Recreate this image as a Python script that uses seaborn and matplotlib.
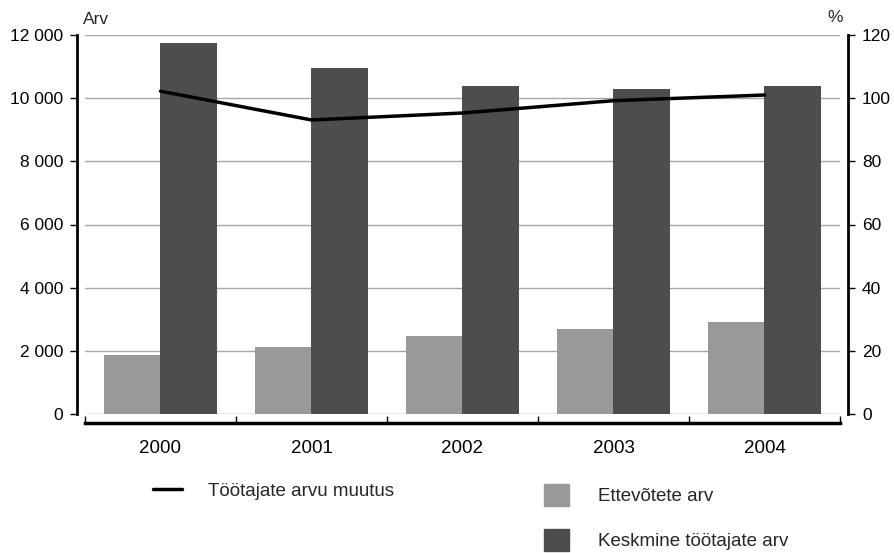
import numpy as np
import pandas as pd
import seaborn as sns
from matplotlib import pyplot as plt
from matplotlib.ticker import FuncFormatter, FixedLocator
from matplotlib.patches import Patch
from matplotlib.lines import Line2D

years = ['2000', '2001', '2002', '2003', '2004']
firms = [1870, 2120, 2470, 2690, 2910]          # Ettevõtete arv
employees = [11750, 10960, 10390, 10290, 10390]  # Keskmine töötajate arv
change = [102.2, 93.1, 95.3, 99.2, 101.0]        # Töötajate arvu muutus, %

lbl_firms = 'Ettevõtete arv'
lbl_emp = 'Keskmine töötajate arv'
lbl_change = 'Töötajate arvu muutus'

sns.set_style('white')
plt.rcParams['font.family'] = ['Liberation Sans', 'DejaVu Sans']
plt.rcParams['font.size'] = 12.5

df = pd.DataFrame({
    'year': years * 2,
    'value': firms + employees,
    'series': [lbl_firms] * len(years) + [lbl_emp] * len(years),
})

fig = plt.figure(figsize=(8.95, 5.53), dpi=100)
ax = fig.add_axes([85 / 895, 1 - 414 / 553, 755 / 895, 379 / 553])

sns.barplot(data=df, x='year', y='value', hue='series', order=years,
            hue_order=[lbl_firms, lbl_emp], palette=['#999999', '#4d4d4d'],
            width=0.75, saturation=1, linewidth=0, ax=ax, legend=False)

ax.set_xlim(-0.5, len(years) - 0.5)
ax.set_ylim(0, 12000)
ax.set_yticks(np.arange(0, 12001, 2000))
ax.yaxis.set_major_formatter(FuncFormatter(lambda v, p: f'{int(v):,}'.replace(',', ' ')))
ax.grid(axis='y', color='#a6a6a6', lw=1)
ax.set_axisbelow(True)
ax.set_xlabel('')
ax.set_ylabel('')

for s in ['top', 'right']:
    ax.spines[s].set_visible(False)
ax.spines['left'].set_position(('outward', 5.8))
ax.spines['left'].set_linewidth(2)
ax.spines['left'].set_color('black')
ax.spines['bottom'].set_position(('outward', 6.5))
ax.spines['bottom'].set_linewidth(2.5)
ax.spines['bottom'].set_color('black')

ax.tick_params(axis='y', direction='out', length=5, width=1, pad=5, labelsize=12.5,
               left=True, color='black', labelcolor='black')
ax.tick_params(axis='x', which='major', length=0, pad=12, labelsize=13.5, labelcolor='black')
ax.xaxis.set_minor_locator(FixedLocator(np.arange(-0.5, len(years), 1.0)))
ax.tick_params(axis='x', which='minor', direction='in', length=5, width=1, bottom=True, color='black')

ax2 = ax.twinx()
sns.lineplot(x=np.arange(len(years)), y=change, ax=ax2, color='black', lw=2.5)
ax2.set_ylim(0, 120)
ax2.set_yticks(np.arange(0, 121, 20))
ax2.set_xlim(-0.5, len(years) - 0.5)
for s in ['top', 'left', 'bottom']:
    ax2.spines[s].set_visible(False)
ax2.spines['right'].set_position(('outward', 5.8))
ax2.spines['right'].set_linewidth(2)
ax2.spines['right'].set_color('black')
ax2.tick_params(axis='y', direction='out', length=5, width=1, pad=5, labelsize=12.5,
                right=True, color='black', labelcolor='black')

fig.text(83 / 895, 1 - 20 / 553, 'Arv', fontsize=12.5, va='center', ha='left')
fig.text(843 / 895, 1 - 18 / 553, '%', fontsize=12.5, va='center', ha='right')

fig.legend(handles=[Line2D([0], [0], color='black', lw=2.5)], labels=[lbl_change],
           loc='center left', bbox_to_anchor=(136 / 895, 1 - 491 / 553),
           frameon=False, fontsize=13.5, handlelength=1.55, handletextpad=1.4)
fig.legend(handles=[Patch(color='#999999'), Patch(color='#4d4d4d')],
           labels=[lbl_firms, lbl_emp],
           loc='upper left', bbox_to_anchor=(527 / 895, 1 - 467 / 553),
           frameon=False, fontsize=13.5, handlelength=1.33, handleheight=1.44,
           labelspacing=1.23, handletextpad=1.55)

fig.savefig('out.png', dpi=100)
